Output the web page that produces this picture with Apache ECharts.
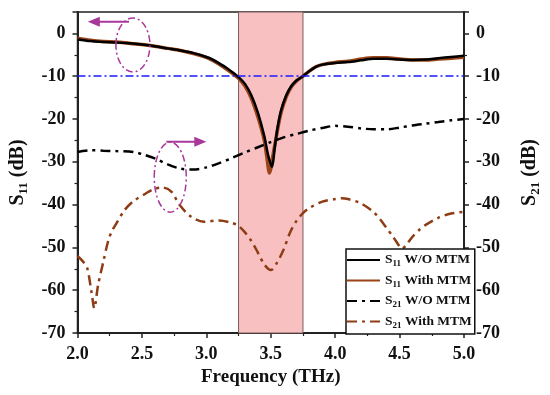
<!DOCTYPE html>
<html><head><meta charset="utf-8">
<script src="https://cdn.jsdelivr.net/npm/echarts@6/dist/echarts.min.js"></script>
<style>html,body{margin:0;padding:0;background:#fff}#c{width:550px;height:395px}</style>
</head><body><div id="c"></div>
<script>
// ---------- data ----------
const s11WoFreq = [2.0,2.1,2.2,2.3,2.4,2.5,2.6,2.7,2.8,2.9,3.0,3.05,3.1,3.15,3.2,3.25,3.3,3.35,3.4,3.45,3.48,3.51,3.53,3.55,3.58,3.62,3.66,3.7,3.75,3.8,3.85,3.9,4.0,4.1,4.2,4.3,4.4,4.5,4.6,4.7,4.8,4.9,5.0];
const s11WoVal  = [-1.4,-1.8,-2.0,-2.1,-2.3,-2.6,-3.0,-3.5,-4.0,-4.6,-5.5,-6.1,-7.0,-7.9,-9.0,-10.2,-11.8,-14.5,-18.5,-24,-28.5,-31.2,-27,-22.5,-18,-14.5,-12.3,-11,-10,-8.8,-7.8,-7.3,-6.9,-6.7,-6.3,-5.9,-5.9,-6.1,-6.2,-6.1,-5.8,-5.5,-5.2];
const s11WithFreq = [2.0,2.1,2.2,2.3,2.4,2.5,2.6,2.7,2.8,2.9,3.0,3.05,3.1,3.15,3.2,3.25,3.3,3.35,3.4,3.45,3.47,3.49,3.52,3.55,3.58,3.62,3.66,3.7,3.75,3.8,3.85,3.9,4.0,4.1,4.2,4.3,4.4,4.5,4.6,4.7,4.8,4.9,5.0];
const s11WithVal  = [-1.1,-1.6,-1.9,-2.0,-2.3,-2.6,-3.0,-3.5,-4.0,-4.7,-5.6,-6.3,-7.2,-8.2,-9.3,-10.5,-12.3,-15.2,-19.5,-25,-29,-32.6,-28,-23,-18.5,-14.8,-12.5,-11.1,-10,-8.8,-7.8,-7.3,-6.8,-6.5,-6.0,-5.7,-5.7,-6.0,-6.2,-6.2,-6.0,-5.8,-5.6];
const s21WoFreq = [2.0,2.1,2.2,2.3,2.4,2.45,2.5,2.6,2.7,2.8,2.9,3.0,3.1,3.2,3.3,3.4,3.5,3.6,3.7,3.8,3.9,4.0,4.1,4.2,4.3,4.4,4.5,4.6,4.7,4.8,4.9,5.0];
const s21WoVal  = [-27.7,-27.3,-27.4,-27.5,-27.6,-27.8,-28.2,-29.2,-30.6,-31.6,-31.8,-31.3,-30.3,-29.1,-27.8,-26.6,-25.4,-24.3,-23.5,-22.7,-22.1,-21.6,-21.8,-22.2,-22.4,-22.4,-22.0,-21.5,-21.1,-20.7,-20.3,-20.0];
const s21WithFreq = [2.0,2.04,2.075,2.11,2.13,2.16,2.2,2.24,2.27,2.3,2.36,2.43,2.53,2.59,2.66,2.73,2.79,2.88,2.98,3.1,3.2,3.25,3.3,3.35,3.4,3.45,3.5,3.55,3.6,3.65,3.7,3.75,3.8,3.9,4.0,4.05,4.1,4.2,4.3,4.35,4.4,4.45,4.5,4.52,4.55,4.6,4.65,4.7,4.8,4.9,5.0];
const s21WithVal  = [-52,-53.2,-54.8,-60.7,-64.2,-58.8,-53.4,-48.3,-46,-44.5,-41.5,-39.3,-37.4,-36.4,-36,-37,-40,-42.8,-44,-43.7,-44.3,-45.0,-46.5,-48.5,-51.2,-54,-55.3,-53.5,-50.5,-46.5,-43.8,-42,-40.8,-39.3,-38.7,-38.5,-38.7,-39.7,-41.8,-43.5,-45.5,-47.5,-49.8,-50.3,-49.5,-47.5,-46,-44.8,-43.1,-42.1,-41.7];
const seriesNames = ['S11 W/O MTM','S11 With MTM','S21 W/O MTM','S21 With MTM'];
const bandRange = [3.25, 3.75];
const refLevel = -10;
const xTicks = [2.0, 5.0, 0.5];
const yTicks = [-70, 5, 10];
// annotation anchors (data coords): ellipse centres, arrow start/end
const ell1 = [2.43, -2.7]; const arr1 = [[2.40, 2.7],[2.08, 2.7]];
const ell2 = [2.72, -33.6]; const arr2 = [[2.69, -25.3],[3.0, -25.3]];

const zip = (a,b) => a.map((v,i)=>[v,b[i]]);
const FONT = 'Liberation Serif';
const BROWN = '#9a4418';
const BROWN2 = '#8e3c14';
const PURP = '#a8379a';
const richSet = (size, sub, lh) => ({
  a:{fontFamily:FONT,fontWeight:'bold',fontSize:size,color:'#111',lineHeight:lh||size+5},
  s:{fontFamily:FONT,fontWeight:'bold',fontSize:sub,color:'#111',lineHeight:sub-1,verticalAlign:'bottom'}
});
const subFmt = n => n.replace(/^S(\d+)(.*)$/, '{a|S}{s|$1}{a|$2}');

const chart = echarts.init(document.getElementById('c'), null, {renderer:'canvas'});
const axisLabel = {fontFamily:FONT,fontWeight:'bold',fontSize:18,color:'#111',margin:12};
const yAxisCommon = {
  type:'value', min:yTicks[0], max:yTicks[1], interval:yTicks[2],
  axisLine:{show:true,lineStyle:{color:'#222',width:2}},
  axisTick:{show:true,inside:false,length:5,lineStyle:{color:'#222',width:1.5}},
  minorTick:{show:true,splitNumber:2,length:3,lineStyle:{color:'#222',width:1.2}},
  splitLine:{show:false},
  axisLabel:Object.assign({showMaxLabel:false},axisLabel),
  nameLocation:'middle', nameRotate:90
};
const option = {
  animation:false,
  grid:{left:75,right:76.5,top:12,bottom:62,show:true,borderColor:'#222',borderWidth:1.5,containLabel:false},
  xAxis:{type:'value',min:xTicks[0],max:xTicks[1],interval:xTicks[2],
    axisLine:{show:true,onZero:false,lineStyle:{color:'#222',width:2}},
    axisTick:{show:true,length:5,lineStyle:{color:'#222',width:1.5}},
    minorTick:{show:true,splitNumber:2,length:3,lineStyle:{color:'#222',width:1.2}},
    splitLine:{show:false},
    axisLabel:Object.assign({},axisLabel,{formatter:v=>v.toFixed(1),margin:12}),
    name:'Frequency (THz)',nameLocation:'middle',nameGap:35,
    nameTextStyle:{fontFamily:FONT,fontWeight:'bold',fontSize:19,color:'#111'}},
  yAxis:[
    Object.assign({},yAxisCommon,{position:'left',name:subFmt('S11 (dB)'),nameGap:47,
      nameTextStyle:{rich:richSet(20,13)}}),
    Object.assign({},yAxisCommon,{position:'right',name:subFmt('S21 (dB)'),nameGap:53,
      nameTextStyle:{rich:richSet(20,13)}})
  ],
  legend:{data:seriesNames,orient:'vertical',left:346,top:249,
    itemWidth:33,itemHeight:12,itemGap:5,padding:[4,3,4,0],
    borderColor:'#111',borderWidth:1.5,backgroundColor:'#fff',
    itemStyle:{color:'rgba(0,0,0,0)',borderWidth:0,opacity:0},
    formatter:subFmt,
    textStyle:{rich:richSet(13.5,9,17)}},
  series:[
    {name:seriesNames[1],type:'line',data:zip(s11WithFreq,s11WithVal),showSymbol:false,symbol:'none',smooth:0.3,
      lineStyle:{color:BROWN,width:3.5},itemStyle:{color:BROWN},z:3,
      markArea:{silent:true,itemStyle:{color:'#f8c0c0',borderColor:'#7a5a5a',borderWidth:1},
        data:[[{xAxis:bandRange[0]},{xAxis:bandRange[1]}]]}},
    {name:seriesNames[0],type:'line',data:zip(s11WoFreq,s11WoVal),showSymbol:false,symbol:'none',smooth:0.3,
      lineStyle:{color:'#000',width:2.5},itemStyle:{color:'#000'},z:4,
      markLine:{silent:true,symbol:'none',label:{show:false},
        lineStyle:{color:'#1a1aff',width:1.5,type:[8,3,2,3]},data:[{yAxis:refLevel}]}},
    {name:seriesNames[2],type:'line',data:zip(s21WoFreq,s21WoVal),showSymbol:false,symbol:'none',smooth:0.3,
      lineStyle:{color:'#000',width:2.5,type:[10,5,3,5]},itemStyle:{color:'#000'},z:3},
    {name:seriesNames[3],type:'line',data:zip(s21WithFreq,s21WithVal),showSymbol:false,symbol:'none',smooth:0.3,
      lineStyle:{color:BROWN2,width:2.5,type:[10,5,3,5]},itemStyle:{color:BROWN2},z:3}
  ]
};
chart.setOption(option);

// annotations (ellipses + arrows) positioned through the axes
function px(p){ return chart.convertToPixel({xAxisIndex:0,yAxisIndex:0}, p); }
function arrow(a){
  const s = px(a[0]), e = px(a[1]);
  const dir = Math.sign(e[0]-s[0]);
  return [
    {type:'line',shape:{x1:s[0],y1:s[1],x2:e[0]-dir*8,y2:e[1]},style:{stroke:PURP,lineWidth:2},z:10},
    {type:'polygon',shape:{points:[[e[0],e[1]],[e[0]-dir*12,e[1]-5],[e[0]-dir*12,e[1]+5]]},style:{fill:PURP},z:10}
  ];
}
const c1 = px(ell1), c2 = px(ell2);
chart.setOption({graphic:[
  {type:'ellipse',shape:{cx:c1[0],cy:c1[1],rx:17,ry:27},style:{fill:null,stroke:PURP,lineWidth:1.5,lineDash:[7,3,2,3]},z:10},
  {type:'ellipse',shape:{cx:c2[0],cy:c2[1],rx:16,ry:35},style:{fill:null,stroke:PURP,lineWidth:1.5,lineDash:[7,3,2,3]},z:10}
].concat(arrow(arr1), arrow(arr2))});
</script></body></html>
